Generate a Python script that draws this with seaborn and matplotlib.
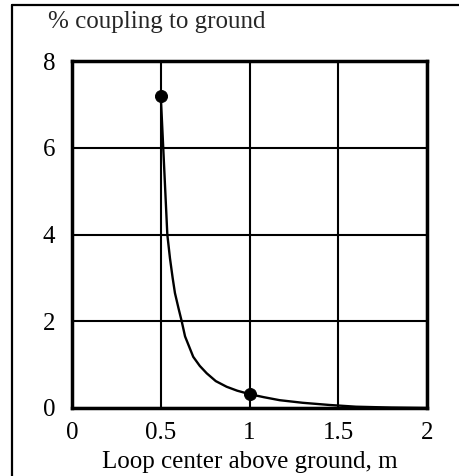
import matplotlib
matplotlib.use("Agg")
import matplotlib.pyplot as plt
import seaborn as sns
import pandas as pd
from matplotlib.lines import Line2D

# Curve
height_m = [0.5, 0.514, 0.537, 0.552, 0.567, 0.58, 0.60, 0.618, 0.637, 0.683, 0.72, 0.759,
            0.81, 0.871, 0.93, 1.0, 1.08, 1.17, 1.3, 1.45, 1.6, 1.8, 2.0]
coupling_pct = [7.2, 6.0, 4.0, 3.45, 3.0, 2.65, 2.3, 2.0, 1.65, 1.18, 0.97, 0.80,
                0.62, 0.49, 0.40, 0.32, 0.25, 0.18, 0.12, 0.07, 0.03, 0.01, 0.0]

# Highlighted points
mark_x = [0.5, 1.0]
mark_y = [7.2, 0.32]

x_ticks = [0, 0.5, 1, 1.5, 2]
x_tick_labels = ["0", "0.5", "1", "1.5", "2"]
y_ticks = [0, 2, 4, 6, 8]

df = pd.DataFrame({"h": height_m, "c": coupling_pct})
marks = pd.DataFrame({"h": mark_x, "c": mark_y})

sns.set_style("white")
plt.rcParams["font.family"] = ["Liberation Serif", "DejaVu Serif"]

fig = plt.figure(figsize=(4.59, 4.76), dpi=100)
ax = fig.add_axes([72 / 459, 1 - 408 / 476, 355 / 459, 347 / 476])

sns.lineplot(data=df, x="h", y="c", ax=ax, color="black", linewidth=1.7, zorder=3)
sns.scatterplot(data=marks, x="h", y="c", ax=ax, color="black", s=75, edgecolor="black", zorder=4)

ax.set_xlim(0, 2)
ax.set_ylim(0, 8)
ax.set_xticks(x_ticks)
ax.set_xticklabels(x_tick_labels)
ax.set_yticks(y_ticks)
ax.tick_params(length=0, labelsize=18, colors="black")
ax.tick_params(axis="y", pad=12)
ax.tick_params(axis="x", pad=10)
ax.grid(True, color="black", linewidth=1.5)
for s in ax.spines.values():
    s.set_color("black")
    s.set_linewidth(2.5)

ax.set_xlabel("Loop center above ground, m", fontsize=18, color="black", labelpad=5)
ax.set_ylabel("")
fig.text(48 / 459, 1 - 22 / 476, "% coupling to ground", fontsize=18, va="center", ha="left")

# frame around the figure (only left and top visible in the crop)
fig.add_artist(Line2D([11.5 / 459, 11.5 / 459], [0, 1 - 4.5 / 476], color="black", linewidth=1.6, transform=fig.transFigure))
fig.add_artist(Line2D([11.5 / 459, 1], [1 - 4.5 / 476, 1 - 4.5 / 476], color="black", linewidth=1.6, transform=fig.transFigure))

fig.savefig("out.png", dpi=100)
